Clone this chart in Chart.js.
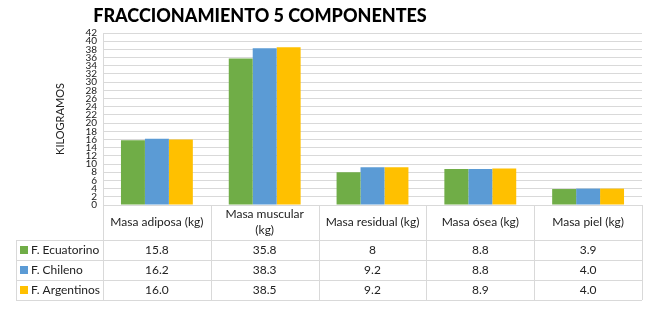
<!DOCTYPE html>
<html>
<head>
    <meta charset="UTF-8">
    <title>Fraccionamiento 5 componentes</title>
    <style>
        html, body { margin: 0; padding: 0; background: #fff; }
        .wrap { width: 650px; height: 321px; position: relative; }
    </style>
</head>
<body>
    <div class="wrap">
        <canvas id="myChart" width="650" height="321"></canvas>
    </div>
    <script src="https://cdn.jsdelivr.net/npm/chart.js"></script>
    <script>
        // categories (header of the data table)
        const categories = [
            ['Masa adiposa (kg)'],
            ['Masa muscular', '(kg)'],
            ['Masa residual (kg)'],
            ['Masa ósea (kg)'],
            ['Masa piel (kg)']
        ];
        const ecuatorino = [15.8, 35.8, 8, 8.8, 3.9];
        const chileno = [16.2, 38.3, 9.2, 8.8, 4.0];
        const argentinos = [16.0, 38.5, 9.2, 8.9, 4.0];
        const yTicks = { min: 0, max: 42, step: 2 };

        const fontFam = 'Lato, "Open Sans", sans-serif';
        const lineCol = '#d9d9d9';

        // draws the title and the data table under the plot, lined up with the x scale
        const tablePlugin = {
            id: 'dataTable',
            afterDraw(chart) {
                const ctx = chart.ctx;
                const x = chart.scales.x;
                const area = chart.chartArea;
                const n = chart.data.labels.length;
                const colW = (x.right - x.left) / n;
                const top = area.bottom;
                const headH = 35, rowH = 20;
                const legLeft = 16;
                const rows = chart.data.datasets.length;
                const bottom = top + headH + rows * rowH;

                ctx.save();
                // title
                ctx.fillStyle = '#000';
                ctx.font = '900 18px ' + fontFam;
                ctx.textAlign = 'center';
                ctx.textBaseline = 'middle';
                ctx.fillText('FRACCIONAMIENTO 5 COMPONENTES', 260, 16);

                // grid of the table
                ctx.strokeStyle = lineCol;
                ctx.lineWidth = 1;
                ctx.beginPath();
                for (let i = 0; i <= n; i++) {
                    const px = Math.round(x.left + i * colW) + 0.5;
                    ctx.moveTo(px, top);
                    ctx.lineTo(px, bottom);
                }
                ctx.moveTo(legLeft + 0.5, top + headH);
                ctx.lineTo(legLeft + 0.5, bottom);
                for (let r = 0; r <= rows; r++) {
                    const py = Math.round(top + headH + r * rowH) + 0.5;
                    ctx.moveTo(legLeft, py);
                    ctx.lineTo(x.right, py);
                }
                ctx.stroke();

                // header labels
                ctx.fillStyle = '#222';
                ctx.font = '12px ' + fontFam;
                chart.data.labels.forEach((lab, i) => {
                    const cx = x.getPixelForValue(i);
                    const lines = Array.isArray(lab) ? lab : [lab];
                    const lh = 16;
                    const y0 = top + headH / 2 - (lines.length - 1) * lh / 2;
                    lines.forEach((t, k) => ctx.fillText(t, cx, y0 + k * lh));
                });

                // rows: legend key + values
                chart.data.datasets.forEach((ds, r) => {
                    const cy = top + headH + r * rowH + rowH / 2;
                    ctx.fillStyle = ds.backgroundColor;
                    ctx.fillRect(legLeft + 4, cy - 4, 8, 8);
                    ctx.fillStyle = '#222';
                    ctx.textAlign = 'left';
                    ctx.fillText(ds.label, legLeft + 15, cy);
                    ctx.textAlign = 'center';
                    ds.data.forEach((v, i) => {
                        const txt = ds.fixed ? v.toFixed(1) : String(v);
                        ctx.fillText(txt, x.getPixelForValue(i), cy);
                    });
                });
                ctx.restore();
            }
        };

        const ctx = document.getElementById('myChart').getContext('2d');
        const myChart = new Chart(ctx, {
            type: 'bar',
            data: {
                labels: categories,
                datasets: [{
                    label: 'F. Ecuatorino',
                    data: ecuatorino,
                    backgroundColor: '#70ad47',
                    fixed: false
                },
                {
                    label: 'F. Chileno',
                    data: chileno,
                    backgroundColor: '#5b9bd5',
                    fixed: true
                },
                {
                    label: 'F. Argentinos',
                    data: argentinos,
                    backgroundColor: '#ffc000',
                    fixed: true
                }]
            },
            options: {
                responsive: false,
                animation: false,
                devicePixelRatio: 1,
                datasets: {
                    bar: { categoryPercentage: 2 / 3, barPercentage: 1 }
                },
                layout: { padding: { left: 50, right: 8, top: 33, bottom: 116 } },
                plugins: {
                    legend: { display: false },
                    title: { display: false },
                    tooltip: { enabled: false }
                },
                scales: {
                    x: {
                        grid: { display: false, drawTicks: false },
                        border: { display: false },
                        ticks: { display: false }
                    },
                    y: {
                        min: yTicks.min,
                        max: yTicks.max,
                        afterFit(scale) { scale.width = 53; },
                        ticks: {
                            stepSize: yTicks.step,
                            autoSkip: false,
                            padding: 6,
                            color: '#222',
                            font: { family: fontFam, size: 10 }
                        },
                        grid: { color: lineCol, drawTicks: false },
                        border: { color: lineCol },
                        title: {
                            display: true,
                            text: 'KILOGRAMOS',
                            color: '#222',
                            padding: { top: 4 },
                            font: { family: fontFam, size: 11 }
                        }
                    }
                }
            },
            plugins: [tablePlugin]
        });
    </script>
</body>
</html>
